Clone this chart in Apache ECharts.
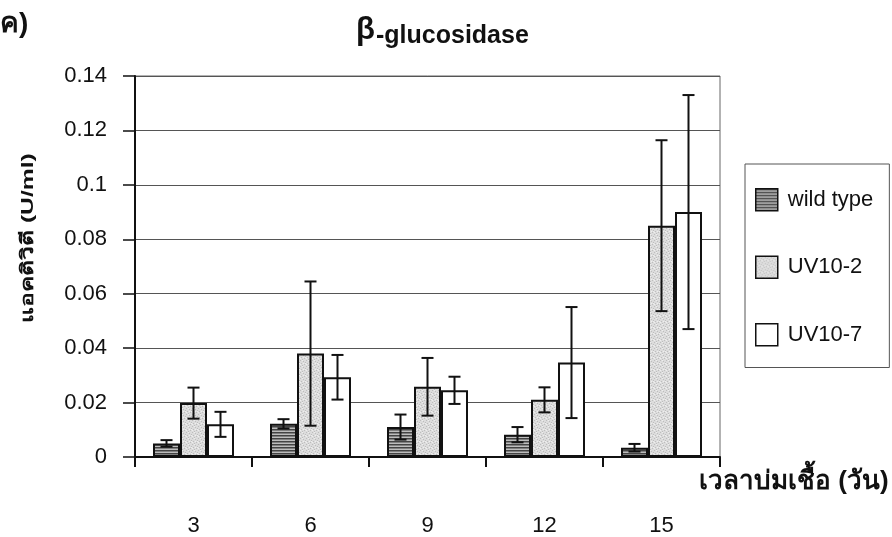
<!DOCTYPE html>
<html><head><meta charset="utf-8">
<script src="https://cdn.jsdelivr.net/npm/echarts@6/dist/echarts.min.js"></script>
<style>html,body{margin:0;padding:0;background:#fff}#c{width:892px;height:537px}</style>
</head><body><div id="c"></div>
<script>
// ---- data ----
const categories = ['3', '6', '9', '12', '15'];
const seriesNames = ['wild type', 'UV10-2', 'UV10-7'];
const wildType = [0.005, 0.0122, 0.011, 0.0082, 0.0034];
const uv10_2 = [0.0198, 0.038, 0.0258, 0.021, 0.085];
const uv10_7 = [0.012, 0.0293, 0.0245, 0.0347, 0.09];
const wildTypeErr = [0.0012, 0.0017, 0.0046, 0.0028, 0.0014];
const uv10_2Err = [0.0057, 0.0265, 0.0106, 0.0046, 0.0314];
const uv10_7Err = [0.0046, 0.0082, 0.005, 0.0204, 0.043];
const yMin = 0, yMax = 0.14, yStep = 0.02;
const titleBeta = 'β';
const titleRest = '-glucosidase';
const yName = 'แอคติวิตี (U/ml)';
const xName = 'เวลาบ่มเชื้อ (วัน)';
const panelLabel = 'ค)';

// ---- style ----
const FONT = "'Liberation Sans', Arial, 'Noto Sans', sans-serif";
const BAR_W = 27;

function stripePattern() {
  const c = document.createElement('canvas');
  c.width = 4; c.height = 3;
  const g = c.getContext('2d');
  g.fillStyle = '#bdbdbd'; g.fillRect(0, 0, 4, 3);
  g.fillStyle = '#444'; g.fillRect(0, 0, 4, 1.5);
  return c;
}
function stipplePattern() {
  const c = document.createElement('canvas');
  c.width = 6; c.height = 6;
  const g = c.getContext('2d');
  g.fillStyle = '#dcdcdc'; g.fillRect(0, 0, 6, 6);
  g.fillStyle = '#bdbdbd';
  [[0,0],[3,1],[1,3],[4,4],[2,5],[5,2]].forEach(p => g.fillRect(p[0], p[1], 1, 1));
  g.fillStyle = '#eeeeee';
  [[2,0],[5,3],[0,4],[3,3]].forEach(p => g.fillRect(p[0], p[1], 1, 1));
  return c;
}
const fills = [
  { image: stripePattern(), repeat: 'repeat' },
  { image: stipplePattern(), repeat: 'repeat' },
  '#ffffff'
];
const values = [wildType, uv10_2, uv10_7];
const errs = [wildTypeErr, uv10_2Err, uv10_7Err];

const barSeries = values.map((vals, k) => ({
  type: 'bar', name: seriesNames[k], data: vals,
  barWidth: BAR_W, barGap: '0%',
  itemStyle: { color: fills[k], borderColor: '#111', borderWidth: 2 },
  emphasis: { disabled: true }
}));

const errSeries = values.map((vals, k) => ({
  type: 'custom', name: seriesNames[k] + ' err', z: 5, silent: true,
  data: vals.map((v, i) => [i, v, errs[k][i]]),
  renderItem(params, api) {
    const i = api.value(0), v = api.value(1), e = api.value(2);
    const c = api.coord([i, v]);
    const x = c[0] + (k - 1) * BAR_W;
    const top = api.coord([i, v + e])[1];
    const bot = api.coord([i, Math.max(0, v - e)])[1];
    const cap = 6;
    const st = { stroke: '#111', lineWidth: 2 };
    return { type: 'group', children: [
      { type: 'line', shape: { x1: x, y1: top, x2: x, y2: bot }, style: st },
      { type: 'line', shape: { x1: x - cap, y1: top, x2: x + cap, y2: top }, style: st },
      { type: 'line', shape: { x1: x - cap, y1: bot, x2: x + cap, y2: bot }, style: st }
    ]};
  }
}));

const chart = echarts.init(document.getElementById('c'));
chart.setOption({
  animation: false,
  backgroundColor: '#fff',
  textStyle: { fontFamily: FONT },
  title: [
    { text: titleBeta, left: 356, top: 15, padding: 0,
      textStyle: { fontSize: 31, fontWeight: 'bold', fontFamily: FONT, color: '#111' } },
    { text: titleRest, left: 376, top: 24, padding: 0,
      textStyle: { fontSize: 25, fontWeight: 'bold', fontFamily: FONT, color: '#111' } }
  ],
  grid: { left: 135, right: 172, top: 76, bottom: 80, show: true, borderColor: '#666', borderWidth: 1, backgroundColor: 'transparent' },
  legend: {
    orient: 'vertical', left: 745, top: 164,
    data: seriesNames,
    icon: 'rect', itemWidth: 22, itemHeight: 22, itemGap: 44,
    padding: [24, 16, 21, 10],
    borderColor: '#555', borderWidth: 1, backgroundColor: '#fff',
    textStyle: { fontSize: 22, lineHeight: 22, color: '#111', fontFamily: FONT, padding: [0, 0, 0, 5] },
    itemStyle: { borderWidth: 1.5, borderColor: '#111' }
  },
  xAxis: {
    type: 'category', data: categories,
    axisLine: { lineStyle: { color: '#111', width: 2 } },
    axisTick: { show: true, length: 10, lineStyle: { color: '#111', width: 2 } },
    axisLabel: { margin: 58, fontSize: 22, color: '#111', fontFamily: FONT },
    splitLine: { show: false }
  },
  yAxis: {
    type: 'value', min: yMin, max: yMax, interval: yStep,
    axisLine: { show: true, lineStyle: { color: '#111', width: 2 } },
    axisTick: { show: true, length: 12, lineStyle: { color: '#111', width: 1.5 } },
    axisLabel: { margin: 28, fontSize: 22, color: '#111', fontFamily: FONT,
      formatter: v => String(+v.toFixed(2)) },
    splitLine: { show: true, lineStyle: { color: '#555', width: 1.2 } }
  },
  graphic: [
    { type: 'text', left: 0, top: 10, style: { text: panelLabel, font: "bold 28px " + FONT, fill: '#111' } },
    { type: 'text', left: 699, top: 469, style: { text: xName, font: "bold 26px " + FONT, fill: '#111' } },
    { type: 'text', x: 20, y: 238, rotation: Math.PI / 2, scaleX: 1.45,
      style: { text: yName, font: "bold 17px " + FONT, fill: '#111', align: 'center', verticalAlign: 'top' } }
  ],
  series: [...barSeries, ...errSeries]
});
</script>
</body></html>
